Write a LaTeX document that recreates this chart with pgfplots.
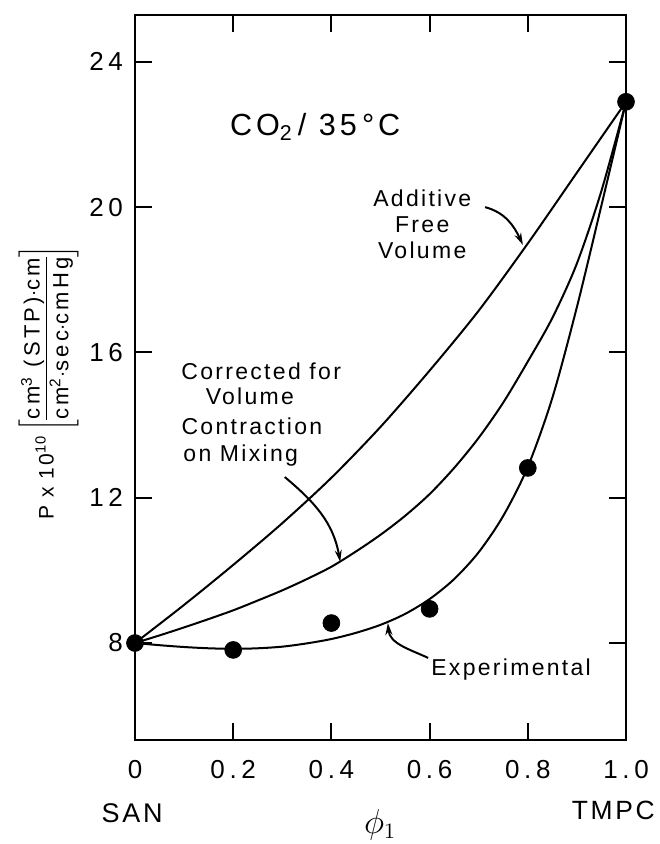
\documentclass[border=0pt]{standalone}
\usepackage{pgfplots}
\pgfplotsset{compat=1.18}
\usepackage{fontspec}
\setmainfont{Liberation Sans}[LetterSpace=10]
\usetikzlibrary{arrows.meta}

% permeability curves for SAN/TMPC blends
\pgfplotstableread{
phi   P
0.0   8.0
0.1   9.05
0.2   10.15
0.3   11.3
0.4   12.55
0.5   13.95
0.6   15.5
0.7   17.15
0.8   19.0
0.9   20.95
1.0   22.9
}\additive
\pgfplotstableread{
phi   P
0.00  8.0
0.05  8.21
0.10  8.43
0.15  8.66
0.20  8.9
0.25  9.17
0.30  9.45
0.35  9.76
0.40  10.1
0.45  10.52
0.50  10.98
0.55  11.5
0.60  12.1
0.65  12.82
0.70  13.65
0.75  14.62
0.80  15.75
0.85  16.95
0.90  18.45
0.95  20.45
1.00  22.9
}\corrected
\pgfplotstableread{
phi   P
0.00  8.0
0.05  7.94
0.10  7.89
0.15  7.855
0.20  7.84
0.25  7.855
0.30  7.9
0.35  7.99
0.40  8.11
0.45  8.28
0.50  8.5
0.55  8.8
0.60  9.21
0.65  9.76
0.70  10.5
0.75  11.5
0.80  12.85
0.85  14.75
0.90  17.25
0.95  20.05
1.00  22.9
}\experimental
\pgfplotstableread{
phi   P
0.0   8.0
0.2   7.81
0.4   8.55
0.6   8.94
0.8   12.82
1.0   22.9
}\measured

\begin{document}
\begin{tikzpicture}[x=1pt,y=1pt]
\useasboundingbox (0,0) rectangle (329.5,422);
\begin{axis}[
  at={(67.5pt,52pt)}, anchor=south west,
  scale only axis, width=245.5pt, height=362.5pt,
  xmin=0, xmax=1, ymin=5.33, ymax=25.29,
  xtick={0,0.2,0.4,0.6,0.8,1}, xticklabels={0,0.2,0.4,0.6,0.8,1.0},
  ytick={8,12,16,20,24},
  tick align=inside, major tick length=8.5pt,
  axis line style={line width=1pt},
  every tick/.style={line width=1pt, black},
  /pgf/number format/assume math mode=true,
  ticklabel style={font=\fontsize{13}{15}\selectfont\addfontfeature{LetterSpace=18}},
  xticklabel style={yshift=-6.5pt},
  yticklabel style={xshift=-2.5pt},
  clip=false,
]
\addplot[line width=1pt, smooth] table[x=phi,y=P] {\additive};
\addplot[line width=1pt, smooth] table[x=phi,y=P] {\corrected};
\addplot[line width=1pt, smooth] table[x=phi,y=P] {\experimental};
\addplot[only marks, mark=*, mark size=4.2pt, black] table[x=phi,y=P] {\measured};

\node[font=\fontsize{15.3}{17}\selectfont\addfontfeature{LetterSpace=13}] at (axis cs:0.367,22.2) {CO\textsubscript{2}\,/ 35\,°C};

\node[font=\fontsize{11.5}{13}\selectfont, align=center] at (axis cs:0.585,19.54) {Additive\\Free\\Volume};
\draw[line width=1pt, -{Stealth[length=6pt,width=3.5pt]}] (axis cs:0.713,20.0) to[out=-15,in=115] (axis cs:0.790,18.96);

\begin{scope}[every node/.style={font=\fontsize{11.5}{13}\selectfont}]
\node at (axis cs:0.257,15.49) {Corrected for};
\node at (axis cs:0.234,14.78) {Volume};
\node at (axis cs:0.238,13.98) {Contraction};
\node[anchor=west, inner sep=0pt] at (axis cs:0.0978,13.15) {on Mixing};
\node at (axis cs:0.766,7.26) {Experimental};
\end{scope}
\draw[line width=1pt, -{Stealth[length=6pt,width=3.5pt]}] (axis cs:0.305,12.57) to[out=-40,in=100] (axis cs:0.418,10.23);
\draw[line width=1pt, -{Stealth[length=6pt,width=3.5pt]}] (axis cs:0.597,7.59) to[out=155,in=-85] (axis cs:0.515,8.55);

\node[font=\fontsize{13.5}{15}\selectfont] at (axis description cs:-0.006,-0.1007) {SAN};
\node[font=\fontsize{13.2}{15}\selectfont] at (axis description cs:0.974,-0.0966) {TMPC};
\node[font=\fontsize{16}{18}\selectfont] at (axis description cs:0.499,-0.117) {$\phi_{1}$};

% permeability unit label, set as a bracketed fraction
\node[rotate=90, anchor=center, inner sep=0pt] at (axis description cs:-0.176,0.493)
  {{\fontsize{10.5}{13}\selectfont P x 10\textsuperscript{10}}\,$\left[\vcenter{\hbox{\fontsize{11}{13}\selectfont\addfontfeature{LetterSpace=15}%
    \begin{tabular}{@{}c@{}}cm\textsuperscript{3} (STP)$\cdot$cm\\[-1pt]\hline\rule{0pt}{11pt}cm\textsuperscript{2}$\cdot$sec$\cdot$cmHg\end{tabular}}}\right]$};
\end{axis}
\end{tikzpicture}
\end{document}
